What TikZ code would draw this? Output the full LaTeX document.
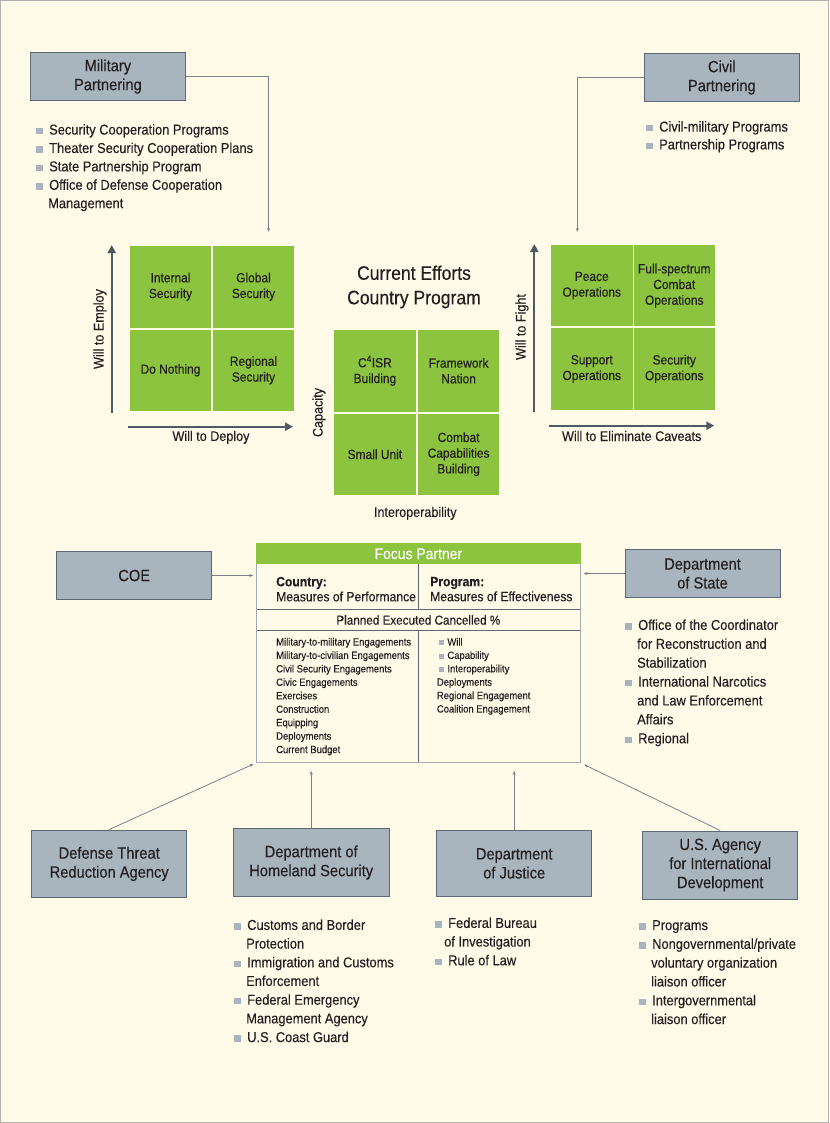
\documentclass[tikz,border=0pt]{standalone}
\usepackage{fontspec}
\setmainfont{Liberation Sans}[FakeStretch=0.9,FakeBold=0.25]
\usetikzlibrary{arrows.meta}
\definecolor{bg}{RGB}{255,251,232}
\definecolor{boxfill}{RGB}{168,181,190}
\definecolor{boxline}{RGB}{90,105,114}
\definecolor{grn}{RGB}{140,196,63}
\definecolor{bul}{RGB}{168,181,190}
\definecolor{ink}{RGB}{35,31,32}
\definecolor{connc}{RGB}{120,132,139}
\definecolor{axisc}{RGB}{77,91,99}
\definecolor{tline}{RGB}{160,170,177}
\definecolor{tdiv}{RGB}{90,105,114}
\newcommand{\bu}{\makebox[13pt][l]{\textcolor{bul}{\rule[0.2pt]{6.5pt}{6.5pt}}}}
\newcommand{\cont}{\hspace*{12pt}}
\newcommand{\sbu}{\hspace*{2.5pt}\makebox[8pt][l]{\textcolor{bul}{\rule[0.1pt]{5pt}{5pt}}}}
\tikzset{
  orgbox/.style={draw=boxline, fill=boxfill, line width=1pt, minimum width=155pt, align=center, inner sep=0pt, text=ink, font=\fontsize{16.3}{19}\selectfont},
  cell/.style={fill=grn, minimum width=81pt, minimum height=81.5pt, inner sep=0pt, align=center, text=ink, font=\fontsize{13.3}{15.7}\selectfont},
  conn/.style={draw=connc, line width=0.8pt, -{Stealth[length=4pt,width=3pt]}},
  axisarrow/.style={draw=axisc, line width=2.2pt, -{Triangle[length=8pt,width=8pt]}},
  axlabel/.style={text=ink, font=\fontsize{14}{16}\selectfont, inner sep=0pt},
  blist/.style={anchor=north west, align=left, inner sep=0pt, text=ink},
  ttext/.style={anchor=north west, align=left, inner sep=0pt, text=ink},
}
\begin{document}
\begin{tikzpicture}[x=1pt,y=-1pt]
\useasboundingbox (0,0) rectangle (829,1123);
\draw[fill=bg, draw=gray!60, line width=1pt] (0.5,0.5) rectangle (828.5,1122.5);

% ---------- top boxes ----------
\node[orgbox, minimum height=48.4pt] (mp) at (107.9,76.5) {Military\\Partnering};
\node[orgbox, minimum height=47.6pt] (cp) at (721.8,77.5) {Civil\\Partnering};
\coordinate (mpend) at (268.7,232);
\coordinate (cpend) at (577.3,232);
\draw[conn] (mp.east) -| (mpend);
\draw[conn] (cp.west) -| (cpend);

\node[blist, font=\fontsize{14.3}{18.4}\selectfont] (mplist) at (36,124) {%
\bu Security Cooperation Programs\\
\bu Theater Security Cooperation Plans\\
\bu State Partnership Program\\
\bu Office of Defense Cooperation\\
\cont Management};
\node[blist, font=\fontsize{14.3}{17.8}\selectfont] (cplist) at (646,121) {%
\bu Civil-military Programs\\
\bu Partnership Programs};

% ---------- left grid ----------
\node[cell] (g11) at (170.5,286.75) {Internal\\Security};
\node[cell] (g12) at (253.5,286.75) {Global\\Security};
\node[cell] (g21) at (170.5,370.25) {Do Nothing};
\node[cell] (g22) at (253.5,370.25) {Regional\\Security};
\coordinate (la0) at (111.7,412.7);
\coordinate (la1) at (111.7,245);
\coordinate (lb0) at (127.7,426.7);
\coordinate (lb1) at (293,426.7);
\draw[axisarrow] (la0) -- (la1);
\draw[axisarrow] (lb0) -- (lb1);
\node[axlabel, rotate=90] (lay) at (100,329) {Will to Employ};
\node[axlabel] (lax) at (211,437.3) {Will to Deploy};

% ---------- center grid ----------
\node[text=ink, align=center, inner sep=0pt, font=\fontsize{19.5}{24.5}\selectfont] (title) at (414,287) {Current Efforts\\Country Program};
\node[cell, minimum width=81.75pt] (c11) at (374.9,370.75) {C\textsuperscript{4}ISR\\Building};
\node[cell, minimum width=81.75pt] (c12) at (458.6,370.75) {Framework\\Nation};
\node[cell, minimum width=81.75pt] (c21) at (374.9,454.25) {Small Unit};
\node[cell, minimum width=81.75pt] (c22) at (458.6,454.25) {Combat\\Capabilities\\Building};
\node[axlabel, rotate=90] (cay) at (319,412.5) {Capacity};
\node[axlabel] (cax) at (415.3,513.3) {Interoperability};

% ---------- right grid ----------
\node[cell, minimum width=81.5pt, minimum height=81.25pt] (r11) at (591.75,285.6) {Peace\\Operations};
\node[cell, minimum width=81.5pt, minimum height=81.25pt] (r12) at (674.25,285.6) {Full-spectrum\\Combat\\Operations};
\node[cell, minimum width=81.5pt, minimum height=81.25pt] (r21) at (591.75,368.9) {Support\\Operations};
\node[cell, minimum width=81.5pt, minimum height=81.25pt] (r22) at (674.25,368.9) {Security\\Operations};
\coordinate (ra0) at (534.3,411.7);
\coordinate (ra1) at (534.3,244);
\coordinate (rb0) at (549.3,425.7);
\coordinate (rb1) at (714.3,425.7);
\draw[axisarrow] (ra0) -- (ra1);
\draw[axisarrow] (rb0) -- (rb1);
\node[axlabel, rotate=90] (ray) at (522,327) {Will to Fight};
\node[axlabel] (rax) at (631.7,436) {Will to Eliminate Caveats};

% ---------- focus partner table ----------
\node[draw=tline, line width=1pt, minimum width=323.3pt, minimum height=219pt, inner sep=0pt] (fp) at (418.35,652.8) {};
\node[fill=grn, minimum width=324.3pt, minimum height=21pt, inner sep=0pt, text=white, font=\fontsize{15.5}{18}\selectfont] (fph) at (418.35,553.8) {Focus Partner};
\draw[tdiv, line width=1pt] (256.7,609) -- (580,609);
\draw[tdiv, line width=1pt] (256.7,630) -- (580,630);
\draw[tdiv, line width=1pt] (418.3,564.3) -- (418.3,609);
\draw[tdiv, line width=1pt] (418.3,630) -- (418.3,762.3);
\node[ttext, font=\fontsize{13.5}{15}\selectfont] (fpc) at (276,576.7) {\textbf{Country:}\\Measures of Performance};
\node[ttext, font=\fontsize{13.5}{15}\selectfont] (fpp) at (430,576.7) {\textbf{Program:}\\Measures of Effectiveness};
\node[text=ink, inner sep=0pt, font=\fontsize{13}{15}\selectfont] (fpm) at (418.35,620) {Planned Executed Cancelled \%};
\node[ttext, font=\fontsize{10.5}{13.45}\selectfont] (fpl) at (276,637.7) {%
Military-to-military Engagements\\
Military-to-civilian Engagements\\
Civil Security Engagements\\
Civic Engagements\\
Exercises\\
Construction\\
Equipping\\
Deployments\\
Current Budget};
\node[ttext, font=\fontsize{10.5}{13.4}\selectfont] (fpr) at (436.7,637.7) {%
\sbu Will\\
\sbu Capability\\
\sbu Interoperability\\
Deployments\\
Regional Engagement\\
Coalition Engagement};

% ---------- side boxes ----------
\node[orgbox, minimum height=47.6pt] (coe) at (134.2,575.5) {COE};
\node[orgbox, minimum height=48.4pt] (dos) at (702.5,573.5) {Department\\of State};
\draw[conn, shorten >=3pt] (coe.east) -- (coe.east -| fp.west);
\draw[conn, shorten >=3pt] (dos.west) -- (dos.west -| fp.east);
\node[blist, font=\fontsize{14.3}{18.9}\selectfont] (doslist) at (625,619.3) {%
\bu Office of the Coordinator\\
\cont for Reconstruction and\\
\cont Stabilization\\
\bu International Narcotics\\
\cont and Law Enforcement\\
\cont Affairs\\
\bu Regional};

% ---------- bottom boxes ----------
\node[orgbox, minimum height=67.7pt] (dtra) at (109.2,863.9) {Defense Threat\\Reduction Agency};
\node[orgbox, minimum height=68.4pt, minimum width=155.7pt] (dhs) at (311.2,862.5) {Department of\\Homeland Security};
\node[orgbox, minimum height=66.7pt] (doj) at (514.2,863.4) {Department\\of Justice};
\node[orgbox, minimum height=68pt] (usaid) at (720.2,865) {U.S. Agency\\for International\\Development};
\draw[conn, shorten >=3pt] (dtra.north) -- (fp.south west);
\draw[conn, shorten >=8pt] (dhs.north) -- (dhs.north |- fp.south);
\draw[conn, shorten >=8pt] (doj.north) -- (doj.north |- fp.south);
\draw[conn, shorten >=4pt] (usaid.north) -- (fp.south east);

\node[blist, font=\fontsize{14.3}{18.7}\selectfont] (dhslist) at (234,919.3) {%
\bu Customs and Border\\
\cont Protection\\
\bu Immigration and Customs\\
\cont Enforcement\\
\bu Federal Emergency\\
\cont Management Agency\\
\bu U.S. Coast Guard};
\node[blist, font=\fontsize{14.3}{18.7}\selectfont] (dojlist) at (435,917.3) {%
\bu Federal Bureau\\
\hspace*{9pt}of Investigation\\
\bu Rule of Law};
\node[blist, font=\fontsize{14.3}{18.8}\selectfont] (usaidlist) at (639,920) {%
\bu Programs\\
\bu Nongovernmental/private\\
\cont voluntary organization\\
\cont liaison officer\\
\bu Intergovernmental\\
\cont liaison officer};
\end{tikzpicture}
\end{document}
